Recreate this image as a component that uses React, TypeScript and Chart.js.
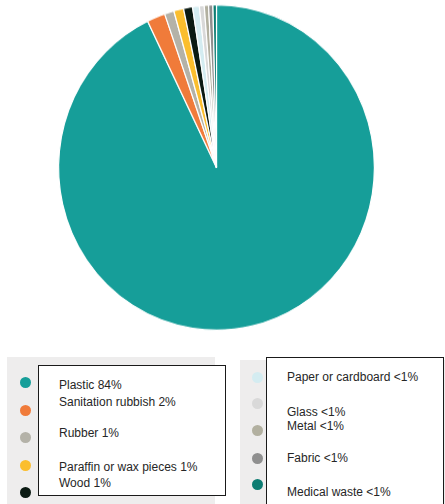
import React, { useEffect, useRef } from "react";
import { Chart, registerables } from "chart.js";

Chart.register(...registerables);

const categories = [
  "Plastic",
  "Sanitation rubbish",
  "Rubber",
  "Paraffin or wax pieces",
  "Wood",
  "Paper or cardboard",
  "Glass",
  "Metal",
  "Fabric",
  "Medical waste",
];
// drawn shares (angular widths)
const values = [92.8, 1.86, 0.97, 1.0, 0.92, 0.69, 0.5, 0.44, 0.44, 0.36];
const colors = [
  "#169E99",
  "#F07B3A",
  "#B4B2A8",
  "#FBBE2E",
  "#0B1A13",
  "#D4ECF1",
  "#D9D9D9",
  "#B2B0A0",
  "#8F8F8F",
  "#0C7C72",
];
const leftLabels = [
  "Plastic 84%",
  "Sanitation rubbish 2%",
  "Rubber 1%",
  "Paraffin or wax pieces 1%",
  "Wood 1%",
];
const rightLabels = [
  "Paper or cardboard <1%",
  "Glass <1%",
  "Metal <1%",
  "Fabric <1%",
  "Medical waste <1%",
];
const leftDotY = [382, 410, 437, 465, 492];
const rightDotY = [377, 403, 430, 458, 484];
const leftTextY = [385, 402, 433, 467, 483];
const rightTextY = [377, 412, 426, 458, 492];

const font = "'Liberation Sans', Arial, sans-serif";

export default function App() {
  const ref = useRef<HTMLCanvasElement | null>(null);
  useEffect(() => {
    if (!ref.current) return;
    const chart = new Chart(ref.current, {
      type: "pie",
      data: {
        labels: categories,
        datasets: [
          {
            data: values,
            backgroundColor: colors,
            borderColor: "#ffffff",
            borderWidth: 1.2,
          },
        ],
      },
      options: {
        responsive: false,
        animation: false,
        layout: { padding: 4 },
        plugins: { legend: { display: false }, tooltip: { enabled: false } },
      },
    });
    return () => chart.destroy();
  }, []);

  const dot = (x: number, y: number, c: string, k: string) => (
    <div
      key={k}
      style={{
        position: "absolute",
        left: x - 5.5,
        top: y - 5.5,
        width: 11,
        height: 11,
        borderRadius: "50%",
        background: c,
      }}
    />
  );
  const text = (x: number, y: number, t: string, k: string) => (
    <div
      key={k}
      style={{
        position: "absolute",
        left: x,
        top: y - 8,
        height: 16,
        lineHeight: "16px",
        fontFamily: font,
        fontSize: 12,
        color: "#262626",
        whiteSpace: "nowrap",
      }}
    >
      {t}
    </div>
  );

  return (
    <div
      style={{
        position: "absolute",
        left: 0,
        top: 0,
        width: 445,
        height: 504,
        overflow: "hidden",
        background: "#ffffff",
      }}
    >
      <div
        style={{
          position: "absolute",
          left: 54,
          top: 5,
          width: 325,
          height: 325,
          transform: "scaleY(1.03)",
          transformOrigin: "50% 50%",
        }}
      >
        <canvas ref={ref} width={325} height={325} style={{ width: 325, height: 325 }} />
      </div>

      <div
        style={{
          position: "absolute",
          left: 7,
          top: 357,
          width: 208,
          height: 147,
          background: "#EEEDED",
        }}
      />
      <div
        style={{
          position: "absolute",
          left: 240,
          top: 360,
          width: 205,
          height: 144,
          background: "#EEEDED",
        }}
      />
      {leftDotY.map((y, i) => dot(25, y, colors[i], "ld" + i))}
      {rightDotY.map((y, i) => dot(257, y, colors[i + 5], "rd" + i))}

      <div
        style={{
          position: "absolute",
          left: 38,
          top: 365,
          width: 188,
          height: 131,
          boxSizing: "border-box",
          border: "1.5px solid #1a1a1a",
          background: "#ffffff",
        }}
      />
      <div
        style={{
          position: "absolute",
          left: 266,
          top: 357,
          width: 178,
          height: 160,
          boxSizing: "border-box",
          border: "1.5px solid #1a1a1a",
          background: "#ffffff",
        }}
      />
      {leftLabels.map((t, i) => text(59, leftTextY[i], t, "lt" + i))}
      {rightLabels.map((t, i) => text(287, rightTextY[i], t, "rt" + i))}
    </div>
  );
}
